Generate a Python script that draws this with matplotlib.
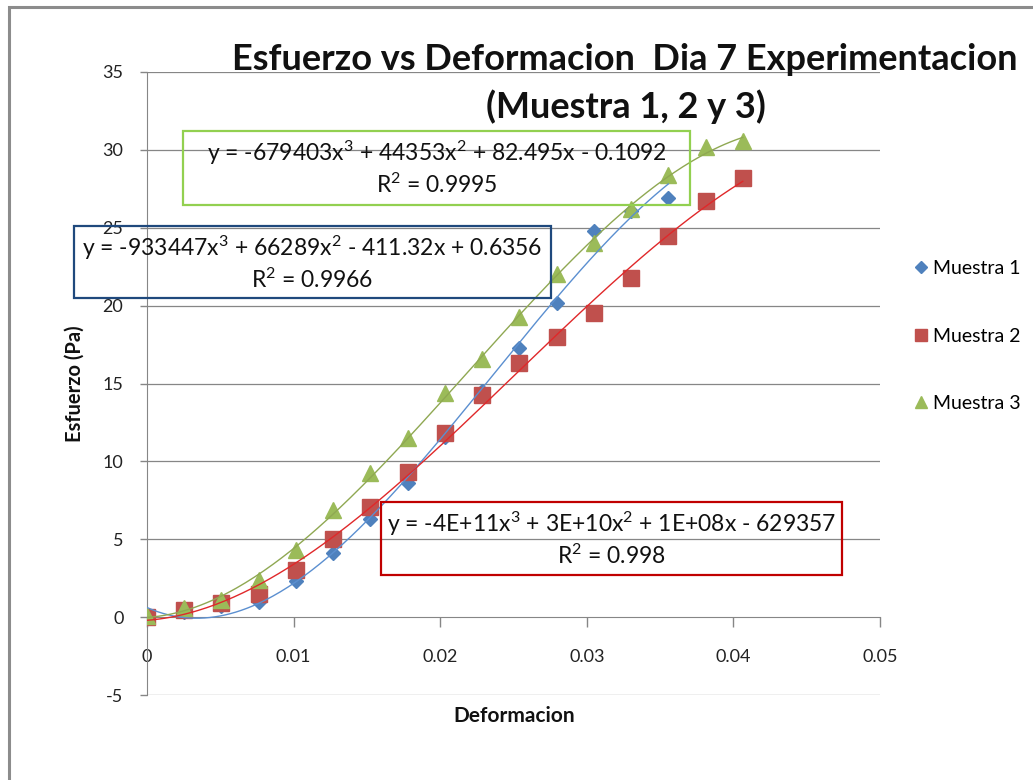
import numpy as np
import matplotlib
matplotlib.use('Agg')
import matplotlib.pyplot as plt
from matplotlib.patches import Rectangle
from matplotlib.ticker import FixedLocator, FixedFormatter

plt.rcParams['font.family'] = ['Lato', 'DejaVu Sans']

# deformation steps (m)
x_m1 = [0, 0.00254, 0.00508, 0.00762, 0.01016, 0.0127, 0.01524, 0.01778,
        0.02032, 0.02286, 0.0254, 0.02794, 0.03048, 0.03302, 0.03556]
x_m23 = x_m1 + [0.0381, 0.04064]

# esfuerzo (Pa)
m1 = [0.0, 0.3, 0.7, 1.0, 2.35, 4.1, 6.3, 8.6, 11.55, 14.5, 17.3, 20.2, 24.8, 26.1, 26.9]
m2 = [0.0, 0.45, 0.9, 1.5, 3.0, 5.0, 7.1, 9.3, 11.8, 14.25, 16.3, 18.0, 19.5, 21.8, 24.5, 26.7, 28.2]
m3 = [0.1, 0.6, 1.1, 2.4, 4.3, 6.9, 9.25, 11.5, 14.4, 16.6, 19.3, 22.0, 24.0, 26.2, 28.4, 30.2, 30.6]

names = ['Muestra 1', 'Muestra 2', 'Muestra 3']
sq = r'$\mathregular{^2}$'
cu = r'$\mathregular{^3}$'
eq_lines = ['y = -933447x' + cu + ' + 66289x' + sq + ' - 411.32x + 0.6356',
            'y = -4E+11x' + cu + ' + 3E+10x' + sq + ' + 1E+08x - 629357',
            'y = -679403x' + cu + ' + 44353x' + sq + ' + 82.495x - 0.1092']
r2_lines = ['R' + sq + ' = 0.9966', 'R' + sq + ' = 0.998', 'R' + sq + ' = 0.9995']

xticks = [0, 0.01, 0.02, 0.03, 0.04, 0.05]
xticklabels = ['0', '0.01', '0.02', '0.03', '0.04', '0.05']
yticks = [-5, 0, 5, 10, 15, 20, 25, 30, 35]
yticklabels = ['-5', '0', '5', '10', '15', '20', '25', '30', '35']

mk_colors = ['#4F81BD', '#C0504D', '#9BBB59']
fit_colors = ['#5B8FD0', '#E0282A', '#8FA852']
box_colors = ['#1F497D', '#C00000', '#92D050']
markers = ['D', 's', '^']
msizes = [7.6, 11, 11.5]

W, H = 1033, 780
fig = plt.figure(figsize=(W / 100, H / 100), dpi=100)
ax = fig.add_axes([147 / W, 1 - 695 / H, (880 - 147) / W, (695 - 72) / H])

# chart area border (only left/top visible)
fig.add_artist(Rectangle((9 / W, -0.1), 1.2, 1 - 7 / H + 0.1, transform=fig.transFigure,
                         fill=False, edgecolor='#8c8c8c', lw=2.2))

xs = [x_m1, x_m23, x_m23]
ys = [m1, m2, m3]
for i in range(3):
    x = np.array(xs[i])
    y = np.array(ys[i])
    ax.plot(x, y, linestyle='none', marker=markers[i], ms=msizes[i],
            color=mk_colors[i], mec=mk_colors[i], label=names[i], zorder=3)
for i in range(3):
    x = np.array(xs[i])
    y = np.array(ys[i])
    c = np.polyfit(x, y, 3)
    xx = np.linspace(0, x[-1], 200)
    ax.plot(xx, np.polyval(c, xx), color=fit_colors[i], lw=1.0, zorder=4)

ax.set_xlim(0, 0.05)
ax.set_ylim(-5, 35)
for s in ['top', 'right']:
    ax.spines[s].set_visible(False)
ax.spines['bottom'].set_position(('data', 0))
ax.spines['bottom'].set_color('#868686')
ax.spines['left'].set_color('#868686')
ax.spines['bottom'].set_zorder(1)

ax.xaxis.set_major_locator(FixedLocator(xticks))
ax.xaxis.set_major_formatter(FixedFormatter(xticklabels))
ax.yaxis.set_major_locator(FixedLocator(yticks))
ax.yaxis.set_major_formatter(FixedFormatter(yticklabels))
ax.tick_params(axis='x', direction='out', length=7, width=1, color='#868686',
               pad=16, labelsize=13, labelcolor='#222222')
ax.tick_params(axis='y', direction='out', length=5, width=1, color='#868686',
               pad=12, labelsize=13, labelcolor='#222222')
for yv in yticks:
    if yv != 0:
        ax.axhline(yv, color='#868686', lw=0.9, zorder=1)

fig.text(75 / W, 1 - 384 / H, 'Esfuerzo (Pa)', rotation=90, ha='center', va='center',
         fontsize=14.5, fontweight='bold', color='#111111')
fig.text(514 / W, 1 - 716 / H, 'Deformacion', ha='center', va='center',
         fontsize=15, fontweight='bold', color='#111111')

fig.text(625 / W, 1 - 60 / H, 'Esfuerzo vs Deformacion  Dia 7 Experimentacion',
         ha='center', va='center', fontsize=26, fontweight='bold', color='#111111')
fig.text(626 / W, 1 - 107 / H, '(Muestra 1, 2 y 3)',
         ha='center', va='center', fontsize=26, fontweight='bold', color='#111111')

# equation boxes: (left, top, right, bottom) in px
boxes = [(74, 226, 551, 298), (381, 502, 842, 575), (183, 131, 690, 205)]
for i in range(3):
    l, t, r, b = boxes[i]
    fig.add_artist(Rectangle((l / W, 1 - b / H), (r - l) / W, (b - t) / H,
                             transform=fig.transFigure, fill=False,
                             edgecolor=box_colors[i], lw=1.6))
    fig.text((l + r) / 2 / W, 1 - (t + 22) / H, eq_lines[i], ha='center', va='center',
             fontsize=16.5, color='#111111')
    fig.text((l + r) / 2 / W, 1 - (t + 54) / H, r2_lines[i], ha='center', va='center',
             fontsize=16.5, color='#111111')

leg = ax.legend(loc='center left', bbox_to_anchor=(896 / W, 1 - 336 / H),
                bbox_transform=fig.transFigure, frameon=False, fontsize=14,
                labelspacing=2.6, handlelength=0.8, handletextpad=0.2,
                markerscale=0.8)

fig.savefig('out.png', dpi=100)
